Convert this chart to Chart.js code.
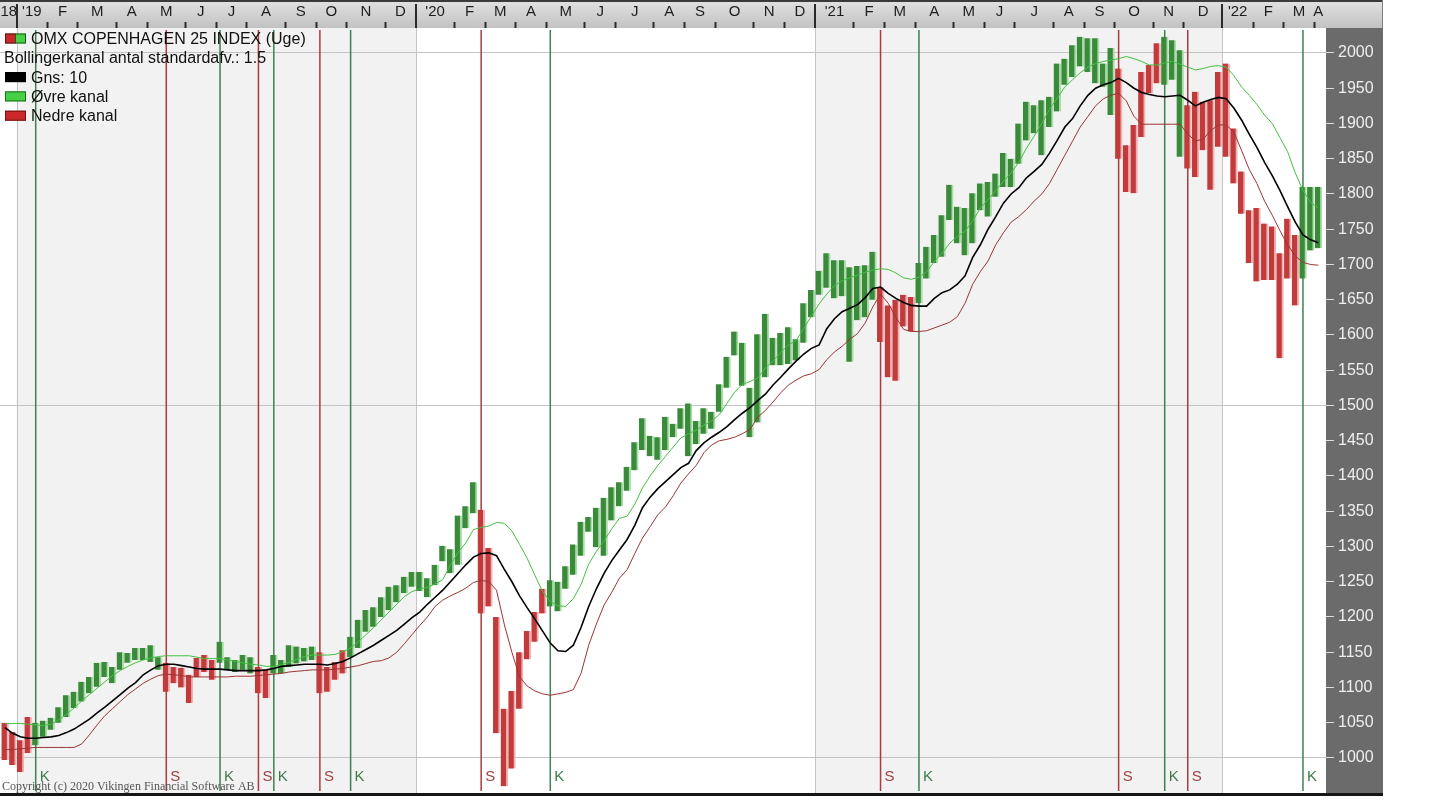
<!DOCTYPE html>
<html><head><meta charset="utf-8">
<script src="https://cdn.jsdelivr.net/npm/chart.js@4.4.1/dist/chart.umd.min.js"></script>
<style>
html,body{margin:0;padding:0;background:#fff;}
#wrap{position:absolute;left:0;top:0;width:1383px;height:810px;}
</style></head><body>
<div id="wrap"><canvas id="c" width="1383" height="810"></canvas></div>
<script>
// ---------- DATA (weekly bars, first bar = Fri 2018-12-21) ----------
const high = [
1050,1037,1025,1058,1050,1053,1057,1072,1089,1094,
1108,1115,1135,1136,1129,1150,1149,1156,1156,1160,
1143,1135,1129,1128,1118,1142,1146,1139,1165,1143,
1139,1146,1143,1129,1125,1146,1139,1160,1158,1156,
1158,1150,1129,1136,1153,1172,1196,1210,1214,1228,
1243,1245,1257,1264,1264,1255,1274,1301,1296,1344,
1357,1391,1352,1298,1200,1070,1095,1150,1180,1207,
1240,1252,1250,1272,1303,1335,1342,1355,1369,1384,
1391,1413,1448,1482,1457,1455,1484,1474,1496,1503,
1478,1496,1491,1530,1569,1605,1589,1525,1601,1630,
1596,1603,1611,1594,1645,1664,1691,1716,1706,1706,
1696,1698,1699,1718,1668,1642,1650,1657,1654,1702,
1725,1742,1770,1813,1782,1780,1801,1815,1817,1829,
1858,1850,1900,1931,1926,1933,1938,1985,1992,2011,
2023,2021,2021,1985,2007,1978,1869,1898,1973,1983,
2014,2023,2018,2004,1926,1945,1931,1933,1973,1985,
1893,1832,1777,1780,1758,1754,1716,1765,1742,1810,
1810,1810];
const low = [
997,990,980,1007,1018,1030,1040,1050,1058,1071,
1080,1092,1101,1115,1106,1125,1135,1139,1139,1136,
1125,1094,1106,1100,1078,1115,1122,1111,1135,1125,
1122,1125,1120,1092,1085,1120,1120,1129,1134,1137,
1139,1092,1094,1111,1120,1143,1156,1179,1186,1200,
1210,1221,1234,1243,1237,1228,1245,1279,1262,1274,
1326,1347,1205,1215,1035,960,985,1070,1140,1165,
1205,1215,1208,1240,1260,1287,1321,1299,1287,1337,
1357,1379,1408,1437,1428,1423,1437,1455,1467,1428,
1445,1460,1467,1491,1525,1571,1528,1455,1476,1540,
1557,1557,1559,1564,1589,1625,1657,1667,1652,1655,
1562,1621,1625,1650,1590,1540,1535,1612,1605,1645,
1680,1702,1711,1763,1730,1713,1730,1777,1768,1796,
1810,1810,1843,1876,1886,1855,1895,1917,1955,1966,
1981,1973,1957,1952,1912,1850,1803,1801,1881,1943,
1957,1955,1962,1853,1836,1824,1862,1806,1867,1853,
1815,1772,1702,1676,1678,1678,1567,1680,1642,1680,
1720,1723];
const gns10 = [
1043,1035,1030,1028,1028,1029,1030,1032,1036,1041,
1048,1055,1064,1072,1081,1090,1099,1107,1118,1125,
1131,1133,1133,1131,1129,1127,1126,1126,1126,1125,
1124,1124,1124,1124,1125,1127,1130,1131,1132,1133,
1133,1133,1132,1134,1137,1142,1148,1154,1160,1167,
1174,1181,1190,1199,1207,1218,1228,1238,1250,1262,
1274,1285,1290,1291,1287,1268,1250,1230,1213,1197,
1180,1163,1152,1151,1160,1185,1215,1240,1262,1280,
1295,1310,1330,1355,1370,1382,1392,1402,1412,1418,
1436,1447,1455,1462,1470,1480,1489,1497,1507,1516,
1529,1540,1552,1563,1573,1581,1586,1609,1623,1633,
1638,1643,1653,1666,1668,1659,1652,1646,1642,1641,
1641,1652,1660,1664,1672,1684,1710,1728,1750,1768,
1787,1800,1809,1823,1832,1842,1858,1876,1895,1907,
1925,1940,1950,1955,1958,1964,1958,1950,1944,1941,
1939,1938,1939,1940,1933,1925,1930,1934,1937,1935,
1922,1905,1885,1866,1845,1826,1805,1782,1760,1742,
1735,1731];
const ovreKanal = [
1049,1049,1049,1048,1047,1046,1048,1054,1062,1071,
1081,1090,1099,1108,1117,1124,1130,1135,1139,1142,
1144,1145,1145,1145,1145,1143,1141,1141,1141,1139,
1137,1135,1133,1132,1130,1130,1132,1136,1140,1144,
1146,1146,1146,1147,1151,1156,1165,1175,1185,1196,
1207,1218,1229,1236,1240,1242,1247,1253,1274,1292,
1305,1324,1327,1329,1334,1333,1322,1303,1283,1259,
1236,1222,1216,1215,1226,1246,1275,1293,1308,1325,
1340,1343,1360,1383,1400,1415,1428,1441,1454,1460,
1465,1472,1478,1487,1503,1519,1530,1534,1539,1553,
1563,1575,1586,1592,1609,1627,1644,1658,1670,1677,
1681,1685,1689,1692,1694,1693,1688,1681,1679,1682,
1690,1704,1716,1730,1740,1747,1762,1780,1792,1805,
1818,1830,1845,1865,1882,1900,1920,1936,1952,1962,
1972,1980,1985,1988,1990,1992,1995,1992,1988,1983,
1983,1986,1988,1984,1980,1976,1978,1981,1982,1980,
1968,1952,1940,1927,1912,1900,1880,1860,1830,1805,
1788,1780];
const nedreKanal = [
1012,1012,1013,1014,1015,1015,1015,1015,1015,1015,
1020,1033,1047,1060,1070,1080,1090,1098,1106,1112,
1117,1119,1118,1117,1115,1115,1115,1115,1115,1115,
1116,1116,1116,1117,1118,1119,1120,1122,1123,1124,
1125,1125,1125,1126,1127,1129,1131,1134,1137,1138,
1142,1150,1162,1175,1188,1200,1215,1224,1230,1235,
1241,1249,1252,1250,1238,1190,1150,1115,1102,1095,
1091,1089,1091,1093,1097,1120,1160,1190,1217,1235,
1255,1267,1290,1312,1328,1345,1356,1372,1390,1403,
1415,1433,1444,1450,1452,1455,1460,1466,1483,1493,
1505,1518,1529,1536,1542,1545,1551,1565,1576,1584,
1594,1602,1617,1640,1658,1645,1625,1608,1605,1605,
1606,1610,1614,1618,1626,1645,1672,1690,1705,1728,
1745,1760,1768,1778,1790,1800,1815,1835,1855,1875,
1895,1910,1925,1935,1940,1943,1932,1910,1899,1899,
1899,1899,1899,1899,1885,1875,1878,1890,1898,1898,
1888,1862,1835,1815,1790,1770,1748,1728,1712,1703,
1700,1699];
const sellSignals = [21, 33, 41, 62, 114, 145, 154];   // "S"
const buySignals  = [4, 28, 35, 45, 71, 119, 151, 169]; // "K"
const monthLetters = ['J','F','M','A','M','J','J','A','S','O','N','D'];
const yTickValues = [1000,1050,1100,1150,1200,1250,1300,1350,1400,1450,1500,
                     1550,1600,1650,1700,1750,1800,1850,1900,1950,2000];
const legendTexts = ['OMX COPENHAGEN 25 INDEX (Uge)', 'Bollingerkanal antal standardafv.: 1.5',
                     'Gns: 10', 'Øvre kanal', 'Nedre kanal'];
const copyrightText = 'Copyright (c) 2020 Vikingen Financial Software AB';
const firstBarUTC = Date.UTC(2018, 11, 21);

// ---------- helpers ----------
const W = 1383;
const DAY = 86400000;
function isBuy(i) {
  let last = -1, buy = false;
  buySignals.forEach(b => { if (b <= i && b > last) { last = b; buy = true; } });
  sellSignals.forEach(s => { if (s <= i && s > last) { last = s; buy = false; } });
  return buy;
}
const months = [];
high.forEach((_, i) => {
  const d = new Date(firstBarUTC + i * 7 * DAY);
  const key = d.getUTCFullYear() * 12 + d.getUTCMonth();
  const last = months[months.length - 1];
  if (!last || last.key !== key) months.push({ key, y: d.getUTCFullYear(), m: d.getUTCMonth(), start: i, end: i });
  else last.end = i;
});
const xTicks = [];
months.forEach((mo, k) => {
  if (k > 0) xTicks.push({ value: mo.start - 0.5, kind: 'b', year: mo.m === 0, txt: '' });
  let txt = monthLetters[mo.m];
  if (k === 0) txt = String(mo.y).slice(2);
  else if (mo.m === 0) txt = "'" + String(mo.y).slice(2);
  xTicks.push({ value: (mo.start + mo.end) / 2, kind: 'l', txt });
});
const yearBounds = months.filter((mo, k) => k > 0 && mo.m === 0).map(mo => ({ y: mo.y, v: mo.start - 0.5 }));

const X_MIN = -0.65, X_MAX = 172.0;
const G_BODY = '#3b893b', G_HALO = '#a6dea6', R_BODY = '#c13a3c', R_HALO = '#f2b0b0';

const decor = {
  id: 'decor',
  beforeDraw(chart) {
    const { ctx, chartArea: a, scales: { x } } = chart;
    ctx.save();
    ctx.fillStyle = '#fff';
    ctx.fillRect(0, 0, chart.width, chart.height);
    const edges = [X_MIN, ...yearBounds.map(b => b.v), X_MAX];
    const yrs = [yearBounds[0].y - 1, ...yearBounds.map(b => b.y)];
    for (let k = 0; k < yrs.length; k++) {
      if ((yrs[k] - 2019) % 2 === 0) {
        const x0 = x.getPixelForValue(edges[k]), x1 = x.getPixelForValue(edges[k + 1]);
        ctx.fillStyle = '#f2f2f2';
        ctx.fillRect(x0, a.top, x1 - x0, a.bottom - a.top);
      }
    }
    ctx.strokeStyle = '#c4c4c4'; ctx.lineWidth = 1;
    yearBounds.forEach(b => {
      const px = Math.round(x.getPixelForValue(b.v)) + 0.5;
      ctx.beginPath(); ctx.moveTo(px, a.top); ctx.lineTo(px, a.bottom); ctx.stroke();
    });
    const g = ctx.createLinearGradient(0, 0, 0, a.top);
    g.addColorStop(0, '#e2e2e2'); g.addColorStop(1, '#c2c2c2');
    ctx.fillStyle = g;
    ctx.fillRect(0, 0, W, a.top);
    ctx.fillStyle = '#3a3a3a';
    ctx.fillRect(0, 0, W, 2);
    ctx.fillStyle = '#808080';
    ctx.fillRect(W - 1, 0, 1, a.top);
    ctx.restore();
  },
  beforeDatasetsDraw(chart) {
    const { ctx, chartArea: a, scales: { x } } = chart;
    ctx.save();
    ctx.lineWidth = 1.5;
    const drawSig = (i, col) => {
      const px = x.getPixelForValue(i);
      ctx.strokeStyle = col;
      ctx.beginPath(); ctx.moveTo(px, a.top + 2); ctx.lineTo(px, a.bottom - 2); ctx.stroke();
    };
    sellSignals.forEach(i => drawSig(i, '#ab3b3e'));
    buySignals.forEach(i => drawSig(i, '#3f7f50'));
    ctx.restore();
  },
  afterDraw(chart) {
    const { ctx, chartArea: a, scales: { x } } = chart;
    ctx.save();
    ctx.fillStyle = '#2a2a2a';
    yearBounds.forEach(b => {
      const px = Math.round(x.getPixelForValue(b.v));
      ctx.fillRect(px - 1, 4, 2, a.top - 4);
    });
    ctx.font = '15px "Liberation Sans", Arial, sans-serif';
    ctx.textBaseline = 'middle'; ctx.textAlign = 'left';
    sellSignals.forEach(i => { ctx.fillStyle = '#9e4245'; ctx.fillText('S', x.getPixelForValue(i) + 4, 777); });
    buySignals.forEach(i => { ctx.fillStyle = '#3f7a4c'; ctx.fillText('K', x.getPixelForValue(i) + 4, 777); });
    const icons = ['dual', null, ['#000000', '#000000'], ['#46d046', '#1f6a1f'], ['#cc2a2a', '#6e1414']];
    ctx.font = '16px "Liberation Sans", Arial, sans-serif';
    legendTexts.forEach((t, k) => {
      const cy = 38.5 + k * 19.3;
      const ic = icons[k];
      const box = (bx, bw, fill, stroke) => {
        ctx.fillStyle = fill; ctx.fillRect(bx, cy - 5, bw, 10);
        ctx.strokeStyle = stroke; ctx.lineWidth = 1; ctx.strokeRect(bx + 0.5, cy - 4.5, bw - 1, 9);
      };
      if (ic === 'dual') { box(5, 11, '#cc2a2a', '#5e1010'); box(15, 11, '#46d046', '#1f5a1f'); }
      else if (ic) box(5, 21, ic[0], ic[1]);
      ctx.fillStyle = '#111';
      ctx.fillText(t, ic ? 31 : 4, cy + 1);
    });
    ctx.font = '12px "Liberation Serif", "Times New Roman", serif';
    ctx.fillStyle = '#555';
    ctx.fillText(copyrightText, 2, 787);
    ctx.fillStyle = '#161616';
    ctx.fillRect(0, a.bottom, W, 3);
    ctx.restore();
  }
};

const toXY = arr => arr.map((v, i) => ({ x: i, y: v }));

new Chart(document.getElementById('c'), {
  type: 'bar',
  data: {
    datasets: [
      { type: 'line', label: 'Gns: 10', data: toXY(gns10), borderColor: '#000', borderWidth: 1.6,
        pointRadius: 0, tension: 0, order: 0 },
      { type: 'line', label: 'Øvre kanal', data: toXY(ovreKanal), borderColor: '#43c043', borderWidth: 1,
        pointRadius: 0, tension: 0, order: 1 },
      { type: 'line', label: 'Nedre kanal', data: toXY(nedreKanal), borderColor: '#9c3434', borderWidth: 1,
        pointRadius: 0, tension: 0, order: 1 },
      { type: 'bar', label: 'OMX COPENHAGEN 25 INDEX (Uge)',
        data: high.map((h, i) => ({ x: i, y: [low[i], h] })),
        backgroundColor: c => (c.dataIndex !== undefined && isBuy(c.dataIndex)) ? G_BODY : R_BODY,
        borderColor: c => (c.dataIndex !== undefined && isBuy(c.dataIndex)) ? G_HALO : R_HALO,
        borderWidth: { top: 0, right: 2, bottom: 0, left: 0 },
        borderSkipped: false, barThickness: 7, grouped: false, order: 2 }
    ]
  },
  options: {
    responsive: false, animation: false, devicePixelRatio: 1,
    layout: { padding: { left: 0, right: 0, top: 0, bottom: 17 } },
    plugins: { legend: { display: false }, tooltip: { enabled: false } },
    scales: {
      x: {
        type: 'linear', position: 'top', min: X_MIN, max: X_MAX, offset: false,
        afterBuildTicks: s => { s.ticks = xTicks.map(t => Object.assign({}, t)); },
        afterFit: s => { s.height = 28; s.paddingLeft = 0; s.paddingRight = 0; },
        border: { display: false },
        grid: { drawOnChartArea: false, drawTicks: true, tickLength: 6, offset: false,
          tickColor: c => (c.tick && c.tick.kind === 'b') ? '#2a2a2a' : 'rgba(0,0,0,0)',
          tickWidth: c => (c.tick && c.tick.year) ? 0 : 2 },
        ticks: { autoSkip: false, maxRotation: 0, minRotation: 0, padding: 1, color: '#1e1e1e',
          font: { family: '"Liberation Sans", Arial, sans-serif', size: 15 },
          callback: (v, i, ticks) => ticks[i].txt }
      },
      y: {
        type: 'linear', position: 'right', min: 950.35, max: 2035.46,
        afterBuildTicks: s => { s.ticks = yTickValues.map(v => ({ value: v })); },
        afterFit: s => { s.width = 57; s.paddingTop = 0; s.paddingBottom = 0; },
        backgroundColor: '#6b6b6b',
        border: { display: false },
        grid: { color: c => (c.tick && c.tick.value % 500 === 0) ? '#c4c4c4' : 'rgba(0,0,0,0)',
          lineWidth: 1, tickColor: '#dedede', tickLength: 8, drawTicks: true },
        ticks: { color: '#eeeeee', padding: 4,
          font: { family: '"Liberation Sans", Arial, sans-serif', size: 16 },
          callback: v => String(v) }
      }
    }
  },
  plugins: [decor]
});
</script>
</body></html>
